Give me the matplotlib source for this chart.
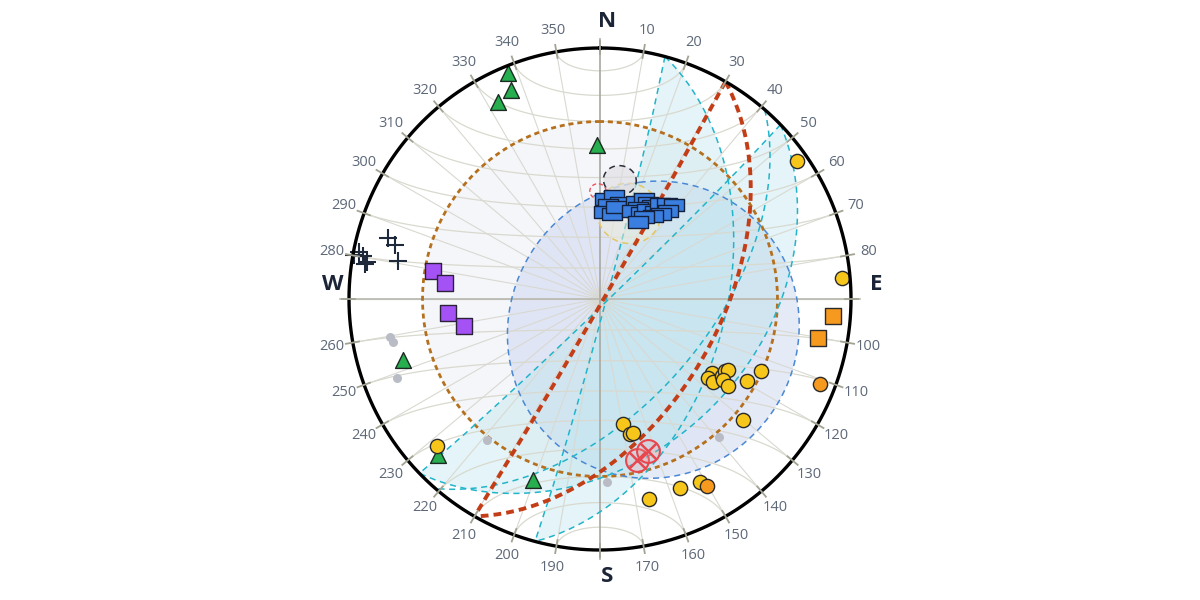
import numpy as np
import matplotlib.pyplot as plt
from matplotlib.path import Path

# ------------------------------------------------------------
# data (trend / plunge in degrees, lower hemisphere)
# ------------------------------------------------------------
blue_trend = [2.9, 7.8, 11.8, 4.9, 2.6, 8.0, 9.9, 20.4, 23.7, 26.6, 29.2, 22.7,
              20.0, 25.5, 27.8, 32.3, 32.3, 35.2, 38.2, 37.7, 35.7, 32.6, 28.2, 26.3]
blue_plunge = [57.2, 56.0, 58.0, 59.2, 61.6, 62.0, 59.5, 56.1, 54.2, 54.8, 55.1, 57.7,
               59.4, 58.8, 57.0, 56.3, 53.1, 51.8, 50.6, 53.5, 55.7, 57.7, 59.6, 62.0]

tri_trend = [337.9, 336.9, 332.6, 358.9, 252.8, 226.1, 200.3]
tri_plunge = [3.2, 10.4, 12.6, 38.6, 19.0, 11.4, 24.1]

yel_trend = [55.0, 85.0, 123.5, 126.2, 126.3, 122.3, 119.9, 119.0, 123.4, 124.2,
             119.2, 114.1, 130.2, 169.6, 167.5, 166.2, 227.9, 166.2, 157.0, 151.4]
yel_plunge = [4.7, 3.6, 45.6, 45.7, 43.4, 42.0, 42.0, 41.3, 41.0, 38.3,
              33.3, 30.4, 26.3, 48.1, 44.1, 44.2, 13.7, 19.1, 19.3, 18.1]

org_trend = [150.2, 111.1]
org_plunge = [15.3, 6.8]

orgsq_trend = [94.2, 100.1]
orgsq_plunge = [7.7, 12.8]

pur_trend = [279.5, 275.9, 264.7, 258.8]
pur_plunge = [33.1, 37.9, 39.1, 44.0]

plus_trend = [286.1, 284.7, 280.7, 280.1, 281.0, 280.3, 278.4, 279.0]
plus_plunge = [13.1, 16.6, 19.2, 0.5, 2.5, 4.5, 6.0, 6.7]

grey_trend = [259.8, 258.3, 248.7, 218.7, 177.8, 139.2]
grey_plunge = [16.1, 16.8, 14.3, 28.8, 27.9, 28.2]

redx_trend = [167.1, 162.5]
redx_plunge = [34.6, 36.7]

# planes: dip direction, dip
red_planes = [(120, 89), (120, 51)]
cyan_band_a = [(105, 88), (105, 48.5)]
cyan_band_b = [(136, 88), (136, 38)]
cyan_extra = [(131, 55)]

# cones: axis trend, axis plunge, half angle
cone_vertical = (0, 90, 60)
cone_blue = (120, 68, 49)
cone_black = (9.5, 50.3, 5)
cone_yellow = (18.6, 60.4, 10)
cone_red = (358.9, 54.6, 2.5)

labels_deg = list(range(0, 360, 10))
cardinals = {0: "N", 90: "E", 180: "S", 270: "W"}


# ------------------------------------------------------------
# projection helpers (equal area, lower hemisphere)
# ------------------------------------------------------------
def project(trend, plunge):
    t = np.radians(np.asarray(trend, float))
    p = np.radians(np.asarray(plunge, float))
    r = np.sqrt(2) * np.sin((np.pi / 2 - p) / 2)
    return r * np.sin(t), r * np.cos(t)


def vec_to_tp(v):
    v = np.asarray(v)
    tr = np.degrees(np.arctan2(v[0], v[1]))
    pl = np.degrees(np.arcsin(np.clip(v[2], -1, 1)))
    return tr, pl


def great_circle(dipdir, dip, n=200):
    t = np.linspace(dipdir - 90, dipdir + 90, n)
    p = np.degrees(np.arctan(np.tan(np.radians(dip)) * np.cos(np.radians(t - dipdir))))
    return project(t, p)


def small_circle(trend, plunge, half, n=360):
    t, p = np.radians(trend), np.radians(plunge)
    a = np.array([np.cos(p) * np.sin(t), np.cos(p) * np.cos(t), np.sin(p)])
    ref = np.array([0, 0, 1.0]) if abs(a[2]) < 0.9 else np.array([1.0, 0, 0])
    u = np.cross(a, ref)
    u /= np.linalg.norm(u)
    w = np.cross(a, u)
    phi = np.linspace(0, 2 * np.pi, n)
    c = np.radians(half)
    v = (np.cos(c) * a[:, None] + np.sin(c) * (np.cos(phi) * u[:, None] + np.sin(phi) * w[:, None]))
    tr, pl = vec_to_tp(v)
    return project(tr, pl)


# ------------------------------------------------------------
# figure
# ------------------------------------------------------------
plt.rcParams['font.family'] = ['Open Sans', 'DejaVu Sans']
fig = plt.figure(figsize=(12, 6), dpi=100)
ax = fig.add_axes([0, 0, 1, 1])
S = 251.0
ax.set_xlim(-600 / S, 600 / S)
ax.set_ylim(-301 / S, 299 / S)
ax.set_aspect('equal')
ax.axis('off')

# fills
x, y = small_circle(*cone_vertical)
ax.fill(x, y, color='#eceff5', alpha=0.5, lw=0, zorder=1)
x, y = small_circle(*cone_blue)
ax.fill(x, y, color='#c2cfee', alpha=0.42, lw=0, zorder=1)
for band in (cyan_band_a, cyan_band_b):
    x1, y1 = great_circle(*band[0])
    x2, y2 = great_circle(*band[1])
    ax.fill(np.r_[x1, x2[::-1]], np.r_[y1, y2[::-1]], color='#bfe6ef', alpha=0.42, lw=0, zorder=1)

# grid: spokes
for az in range(0, 360, 10):
    if az % 90 == 0:
        continue
    xe, ye = project(az, 0)
    ax.plot([0, xe], [0, ye], color='#d9d9d2', lw=0.8, zorder=2)

# grid: small circles about N-S axis
phi = np.linspace(0, np.pi, 181)
for alpha in range(10, 180, 10):
    al = np.radians(alpha)
    v = np.array([np.sin(al) * np.cos(phi), np.cos(al) * np.ones_like(phi), np.sin(al) * np.sin(phi)])
    tr, pl = vec_to_tp(v)
    xs, ys = project(tr, pl)
    ax.plot(xs, ys, color='#d9d9cf', lw=0.9, zorder=2)

# main axes lines
ax.plot([0, 0], [-1.035, 1.035], color='#a8a8a2', lw=1.2, zorder=2)
ax.plot([-1.035, 1.035], [0, 0], color='#b8b8b0', lw=1.2, zorder=2)

# primitive + ticks
th = np.linspace(0, 2 * np.pi, 721)
ax.plot(np.sin(th), np.cos(th), color='black', lw=2.4, zorder=6)
for az in labels_deg:
    a = np.radians(az)
    ax.plot([0.975 * np.sin(a), 1.028 * np.sin(a)], [0.975 * np.cos(a), 1.028 * np.cos(a)],
            color='#a3a394', lw=1.3, zorder=6)

# labels
for az in labels_deg:
    a = np.radians(az)
    if az in cardinals:
        continue
    ax.text(1.086 * np.sin(a), 1.086 * np.cos(a), str(az), ha='center', va='center',
            fontsize=10.5, color='#5d6878', zorder=7)
card_pos = {"N": (7, 277.5), "E": (276, 15), "S": (7, -277.5), "W": (-267, 15)}
for lab, (px, py) in card_pos.items():
    ax.text(px / S, py / S, lab, ha='center', va='center', fontsize=16,
            fontweight='bold', color='#1c2537', zorder=7)

# outlines
dash = (0, (4, 3))
x, y = small_circle(*cone_vertical)
ax.plot(x, y, color='#b5701e', lw=2.0, ls=(0, (1.8, 1.4)), zorder=3)
x, y = small_circle(*cone_blue)
ax.plot(x, y, color='#4a87d4', lw=1.1, ls=dash, zorder=3)
for gc in cyan_band_a + cyan_band_b + cyan_extra:
    x, y = great_circle(*gc)
    ax.plot(x, y, color='#22b4c9', lw=1.1, ls=dash, zorder=3)
for gc in red_planes:
    x, y = great_circle(*gc)
    ax.plot(x, y, color='#c33d17', lw=2.8, ls=(0, (2.0, 1.3)), zorder=4)

# confidence cones
x, y = small_circle(*cone_yellow)
ax.fill(x, y, color='#ecebd8', alpha=0.5, lw=0, zorder=3)
ax.plot(x, y, color='#e3c763', lw=1.1, ls=dash, zorder=3)
x, y = small_circle(*cone_black)
ax.fill(x, y, color='#dcdce2', alpha=0.6, lw=0, zorder=3)
ax.plot(x, y, color='#2b2f3a', lw=1.1, ls=dash, zorder=3)
x, y = small_circle(*cone_red)
ax.plot(x, y, color='#e8565c', lw=1.0, ls=(0, (3, 2)), zorder=3)

# markers
rect = Path([(-1, -0.6), (1, -0.6), (1, 0.6), (-1, 0.6), (-1, -0.6)],
            [Path.MOVETO, Path.LINETO, Path.LINETO, Path.LINETO, Path.CLOSEPOLY])

x, y = project(grey_trend, grey_plunge)
ax.scatter(x, y, s=42, c='#b9bcc5', lw=0, zorder=5)
x, y = project(blue_trend, blue_plunge)
ax.scatter(x, y, s=190, marker=rect, c='#3a7fe0', edgecolors='#14213d', lw=1.0, zorder=5)
x, y = project(tri_trend, tri_plunge)
ax.scatter(x, y, s=130, marker='^', c='#27ae4f', edgecolors='#1c2a22', lw=1.0, zorder=5)
x, y = project(yel_trend, yel_plunge)
ax.scatter(x, y, s=105, marker='o', c='#f7c61b', edgecolors='#2a2a2a', lw=1.0, zorder=5)
x, y = project(org_trend, org_plunge)
ax.scatter(x, y, s=105, marker='o', c='#f59a1e', edgecolors='#2a2a2a', lw=1.0, zorder=5)
x, y = project(orgsq_trend, orgsq_plunge)
ax.scatter(x, y, s=125, marker='s', c='#f59a1e', edgecolors='#2a2a2a', lw=1.0, zorder=5)
x, y = project(pur_trend, pur_plunge)
ax.scatter(x, y, s=125, marker='s', c='#a452f5', edgecolors='#2a2238', lw=1.0, zorder=5)
x, y = project(plus_trend, plus_plunge)
ax.scatter(x, y, s=150, marker='+', c='#1e2a3b', lw=1.5, zorder=5)
x, y = project(redx_trend, redx_plunge)
ax.scatter(x, y, s=270, marker='o', facecolors=(0.95, 0.6, 0.62, 0.25), edgecolors='#e8474f',
           lw=1.5, zorder=5)
ax.scatter(x, y, s=150, marker='x', c='#e8474f', lw=1.8, zorder=5)

fig.savefig('out.png', dpi=100)
